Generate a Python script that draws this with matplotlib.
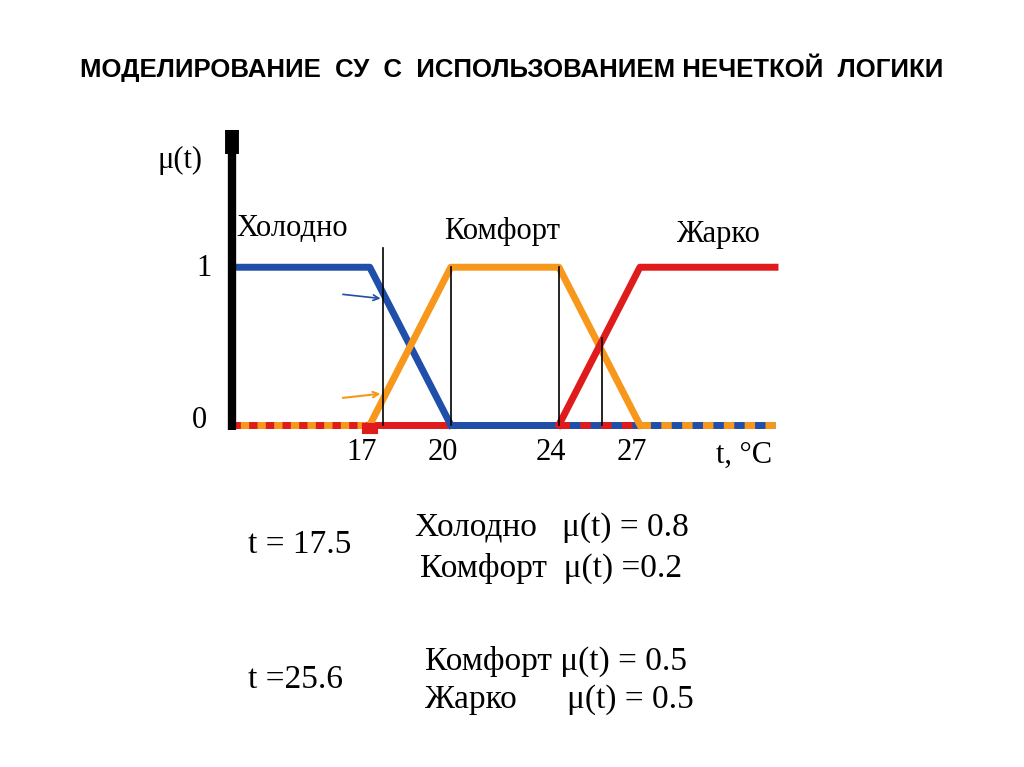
import matplotlib
matplotlib.use("Agg")
import matplotlib.pyplot as plt

t_cold = [11.9, 17.0, 20.0, 32.0]
mu_cold = [1, 1, 0, 0]
t_comf = [17.0, 20.0, 24.0, 27.0]
mu_comf = [0, 1, 1, 0]
t_hot = [24.0, 27.0, 32.0]
mu_hot = [0, 1, 1]
ticks = [17, 20, 24, 27]
t1, t2 = 17.5, 25.6

W, H = 1024, 767
fig = plt.figure(figsize=(W/100, H/100), dpi=100)
def fx(p): return p/W
def fy(p): return 1-p/H

ax = fig.add_axes([fx(232), fy(425), (775-232)/W, (425-130)/H])
ax.set_xlim(11.9, 32)
ax.set_ylim(0, 1.87)
ax.axis('off')
blue, orange, red = '#1f4fa8', '#f7981d', '#e01b1b'
lw = 5
ax.plot([11.9, 17.0], [0, 0], color=orange, lw=lw, clip_on=False, solid_capstyle='butt')
ax.plot([11.9, 17.0], [0, 0], color=red, lw=lw, ls=(0, (1.2, 1.2)), clip_on=False)
ax.plot([17.0, 24.0], [0, 0], color=red, lw=lw, clip_on=False, solid_capstyle='butt')
ax.plot([20.0, 32.0], [0, 0], color=blue, lw=lw, clip_on=False, solid_capstyle='butt')
ax.plot([27.0, 32.0], [0, 0], color=orange, lw=lw, ls=(0, (1.5, 1.5)), clip_on=False)
ax.plot([24.0, 27.0], [0, 0], color=red, lw=lw, ls=(0, (1.5, 1.5)), clip_on=False)
ax.plot(t_cold[:3], mu_cold[:3], color=blue, lw=lw, clip_on=False)
ax.plot(t_comf, mu_comf, color=orange, lw=lw, clip_on=False)
ax.plot(t_hot, mu_hot, color=red, lw=lw, clip_on=False)
for x, top in [(t1, 1.12), (20, 1.0), (24, 1.0), (t2, 0.55)]:
    ax.plot([x, x], [0, top], color='black', lw=1.2, clip_on=False)
ax.annotate('', xy=(t1, 0.8), xytext=(t1-1.6, 0.83),
            arrowprops=dict(arrowstyle='->', color=blue, lw=1.2))
ax.annotate('', xy=(t1, 0.2), xytext=(t1-1.6, 0.17),
            arrowprops=dict(arrowstyle='->', color=orange, lw=1.5))
ax.plot([11.9, 11.9], [-0.03, 1.87], color='black', lw=6, clip_on=False, solid_capstyle='butt')
ax.plot([11.9, 11.9], [1.72, 1.87], color='black', lw=10, clip_on=False, solid_capstyle='butt')
ax.plot([16.9, 17.1], [-0.02, -0.02], color=red, lw=8, clip_on=False)

serif = 'Liberation Serif'
fig.text(0.5, fy(68), 'МОДЕЛИРОВАНИЕ  СУ  С  ИСПОЛЬЗОВАНИЕМ НЕЧЕТКОЙ  ЛОГИКИ',
         ha='center', va='center', family='Liberation Sans', weight='bold', fontsize=18.5)
def T(x, y, s, ha='left', size=22):
    fig.text(fx(x), fy(y), s, ha=ha, va='center', family=serif, fontsize=size)
T(157, 160, 'μ(t)')
T(196, 268, '1')
T(192, 420, '0')
T(236, 228, 'Холодно')
T(444, 232, 'Комфорт')
T(676, 234, 'Жарко')
ax_pos = lambda v: 232 + (v-11.9)/(32-11.9)*(775-232)
for v in ticks:
    T(ax_pos(v) - 8, 453, str(v), ha='center')
T(716, 455, 't, °C')
T(248, 545, 't = 17.5', size=24)
T(415, 528, 'Холодно   μ(t) = 0.8', size=24)
T(420, 568, 'Комфорт  μ(t) =0.2', size=24)
T(248, 680, 't =25.6', size=24)
T(425, 661, 'Комфорт μ(t) = 0.5', size=24)
T(425, 700, 'Жарко      μ(t) = 0.5', size=24)
fig.savefig('out.png', dpi=100)
